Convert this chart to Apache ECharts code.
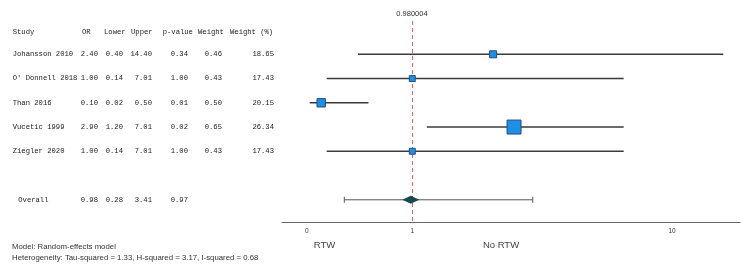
<!DOCTYPE html>
<html>
<head>
<meta charset="utf-8">
<script src="https://cdn.jsdelivr.net/npm/echarts@6/dist/echarts.min.js"></script>
<style>
html,body{margin:0;padding:0;background:#fff;}
#chart{width:750px;height:273px;}
</style>
</head>
<body>
<div id="chart"></div>
<script>
// ---- data ----
const studies = ['Johansson 2010', "O' Donnell 2018", 'Than 2016', 'Vucetic 1999', 'Ziegler 2020'];
const orVals = [2.40, 1.00, 0.10, 2.90, 1.00];
const lowerVals = [0.40, 0.14, 0.02, 1.20, 0.14];
const upperVals = [14.40, 7.01, 0.50, 7.01, 7.01];
const pVals = [0.34, 1.00, 0.01, 0.02, 1.00];
const weights = [0.46, 0.43, 0.50, 0.65, 0.43];
const weightPct = [18.65, 17.43, 20.15, 26.34, 17.43];
const overallLabel = 'Overall';
const overallOR = 0.98;
const overallLower = 0.28;
const overallUpper = 3.41;
const overallP = 0.97;
const refValue = 0.980004;
const tickValues = [0, 1, 10];
const headers = ['Study', 'OR', 'Lower', 'Upper', 'p-value', 'Weight', 'Weight (%)'];
const modelText = 'Model: Random-effects model';
const hetText = 'Heterogeneity: Tau-squared = 1.33, H-squared = 3.17, I-squared = 0.68';
const leftLabel = 'RTW';
const rightLabel = 'No RTW';

// ---- scale transform: log10(1 + x) ----
const T = v => Math.log10(1 + v);
const fmt2 = v => v.toFixed(2);

// ---- layout ----
const headerRow = -0.93;
const overallRow = 6;
const headerX = [12.7, 82, 104, 131, 162.7, 198, 230];
const colRight = [null, 98, 123, 152, 188, 222, 274];
const MONO = 'Liberation Mono';
const SANS = 'Liberation Sans';

// table text items
const tableItems = [];
headers.forEach((h, i) => tableItems.push({x: headerX[i], y: headerRow, text: h, align: 'left'}));
studies.forEach((s, r) => {
  tableItems.push({x: headerX[0], y: r, text: s, align: 'left'});
  const vals = [fmt2(orVals[r]), fmt2(lowerVals[r]), fmt2(upperVals[r]), fmt2(pVals[r]), fmt2(weights[r]), fmt2(weightPct[r])];
  vals.forEach((v, c) => tableItems.push({x: colRight[c + 1], y: r, text: v, align: 'right'}));
});
tableItems.push({x: headerX[0] + 5.6, y: overallRow, text: overallLabel, align: 'left'});
[fmt2(overallOR), fmt2(overallLower), fmt2(overallUpper), fmt2(overallP)].forEach((v, c) =>
  tableItems.push({x: colRight[c + 1], y: overallRow, text: v, align: 'right'}));

const ciData = studies.map((s, r) => [T(lowerVals[r]), T(upperVals[r]), r]);
const pointData = studies.map((s, r) => [T(orVals[r]), r]);

const yMin = -1.373, yMax = 6.928;
const chart = echarts.init(document.getElementById('chart'), null, {renderer: 'canvas'});
chart.setOption({
  animation: false,
  backgroundColor: '#fff',
  grid: [
    {left: 282, right: 10, top: 21, bottom: 50.7, outerBoundsMode: 'none', containLabel: false},
    {left: 0, width: 280, top: 21, bottom: 50.7, outerBoundsMode: 'none', containLabel: false}
  ],
  xAxis: [
    {
      type: 'value', gridIndex: 0, min: -0.0704, max: 1.2352,
      splitLine: {show: false},
      axisLine: {show: true, onZero: false, lineStyle: {color: '#666', width: 1}},
      axisTick: {show: false},
      axisLabel: {
        customValues: tickValues.map(T),
        formatter: v => String(Math.round(Math.pow(10, v) - 1)),
        fontSize: 6.5, color: '#333', fontFamily: SANS, margin: 5
      }
    },
    {type: 'value', gridIndex: 1, min: 0, max: 280, show: false}
  ],
  yAxis: [
    {type: 'value', gridIndex: 0, min: yMin, max: yMax, inverse: true, show: false},
    {type: 'value', gridIndex: 1, min: yMin, max: yMax, inverse: true, show: false}
  ],
  series: [
    {
      type: 'custom', xAxisIndex: 0, yAxisIndex: 0, z: 2,
      data: ciData,
      renderItem: (params, api) => {
        const a = api.coord([api.value(0), api.value(2)]);
        const b = api.coord([api.value(1), api.value(2)]);
        return {type: 'line', shape: {x1: a[0], y1: a[1], x2: b[0], y2: b[1]},
          style: {stroke: '#3b3b3b', lineWidth: 1.5}};
      },
      markLine: {
        silent: true, symbol: ['none', 'none'], z: 3,
        lineStyle: {color: '#e8645c', type: [4, 3], width: 1},
        label: {show: true, position: 'start', formatter: String(refValue), color: '#333', fontSize: 7.5, fontFamily: SANS, distance: 3},
        data: [{xAxis: T(refValue)}]
      }
    },
    {
      type: 'scatter', xAxisIndex: 0, yAxisIndex: 0, z: 5,
      data: pointData,
      symbol: 'rect',
      symbolSize: (val, params) => 0.9 * (weightPct[params.dataIndex] - 10.8),
      itemStyle: {color: '#1e8fe4', borderColor: '#24507a', borderWidth: 1, opacity: 1}
    },
    {
      type: 'custom', xAxisIndex: 0, yAxisIndex: 0, z: 4,
      data: [[T(overallLower), T(overallUpper), overallRow]],
      renderItem: (params, api) => {
        const a = api.coord([api.value(0), api.value(2)]);
        const b = api.coord([api.value(1), api.value(2)]);
        const st = {stroke: '#555', lineWidth: 1};
        return {type: 'group', children: [
          {type: 'line', shape: {x1: a[0], y1: a[1], x2: b[0], y2: b[1]}, style: st},
          {type: 'line', shape: {x1: a[0], y1: a[1] - 3, x2: a[0], y2: a[1] + 3}, style: st},
          {type: 'line', shape: {x1: b[0], y1: b[1] - 3, x2: b[0], y2: b[1] + 3}, style: st}
        ]};
      }
    },
    {
      type: 'scatter', xAxisIndex: 0, yAxisIndex: 0, z: 6,
      data: [[T(overallOR), overallRow]],
      symbol: 'diamond', symbolSize: [17, 8],
      itemStyle: {color: '#174a4a', opacity: 1}
    },
    {
      type: 'custom', xAxisIndex: 1, yAxisIndex: 1, z: 5,
      data: tableItems.map(d => [d.x, d.y]),
      renderItem: (params, api) => {
        const d = tableItems[params.dataIndex];
        const p = api.coord([api.value(0), api.value(1)]);
        return {type: 'text', x: p[0], y: p[1],
          style: {text: d.text, align: d.align, verticalAlign: 'middle', fill: '#1a1a1a', font: '7.2px "' + MONO + '"'}};
      }
    }
  ],
  graphic: [
    {type: 'text', x: 12, y: 246.5, style: {text: modelText, fill: '#333', font: '7.8px "' + SANS + '"', verticalAlign: 'middle'}},
    {type: 'text', x: 12, y: 258, style: {text: hetText, fill: '#333', font: '7.8px "' + SANS + '"', verticalAlign: 'middle'}},
    {type: 'text', x: 324.5, y: 245, style: {text: leftLabel, fill: '#444', font: '9.5px "' + SANS + '"', align: 'center', verticalAlign: 'middle'}},
    {type: 'text', x: 501, y: 245, style: {text: rightLabel, fill: '#444', font: '9.5px "' + SANS + '"', align: 'center', verticalAlign: 'middle'}}
  ]
});
</script>
</body>
</html>
